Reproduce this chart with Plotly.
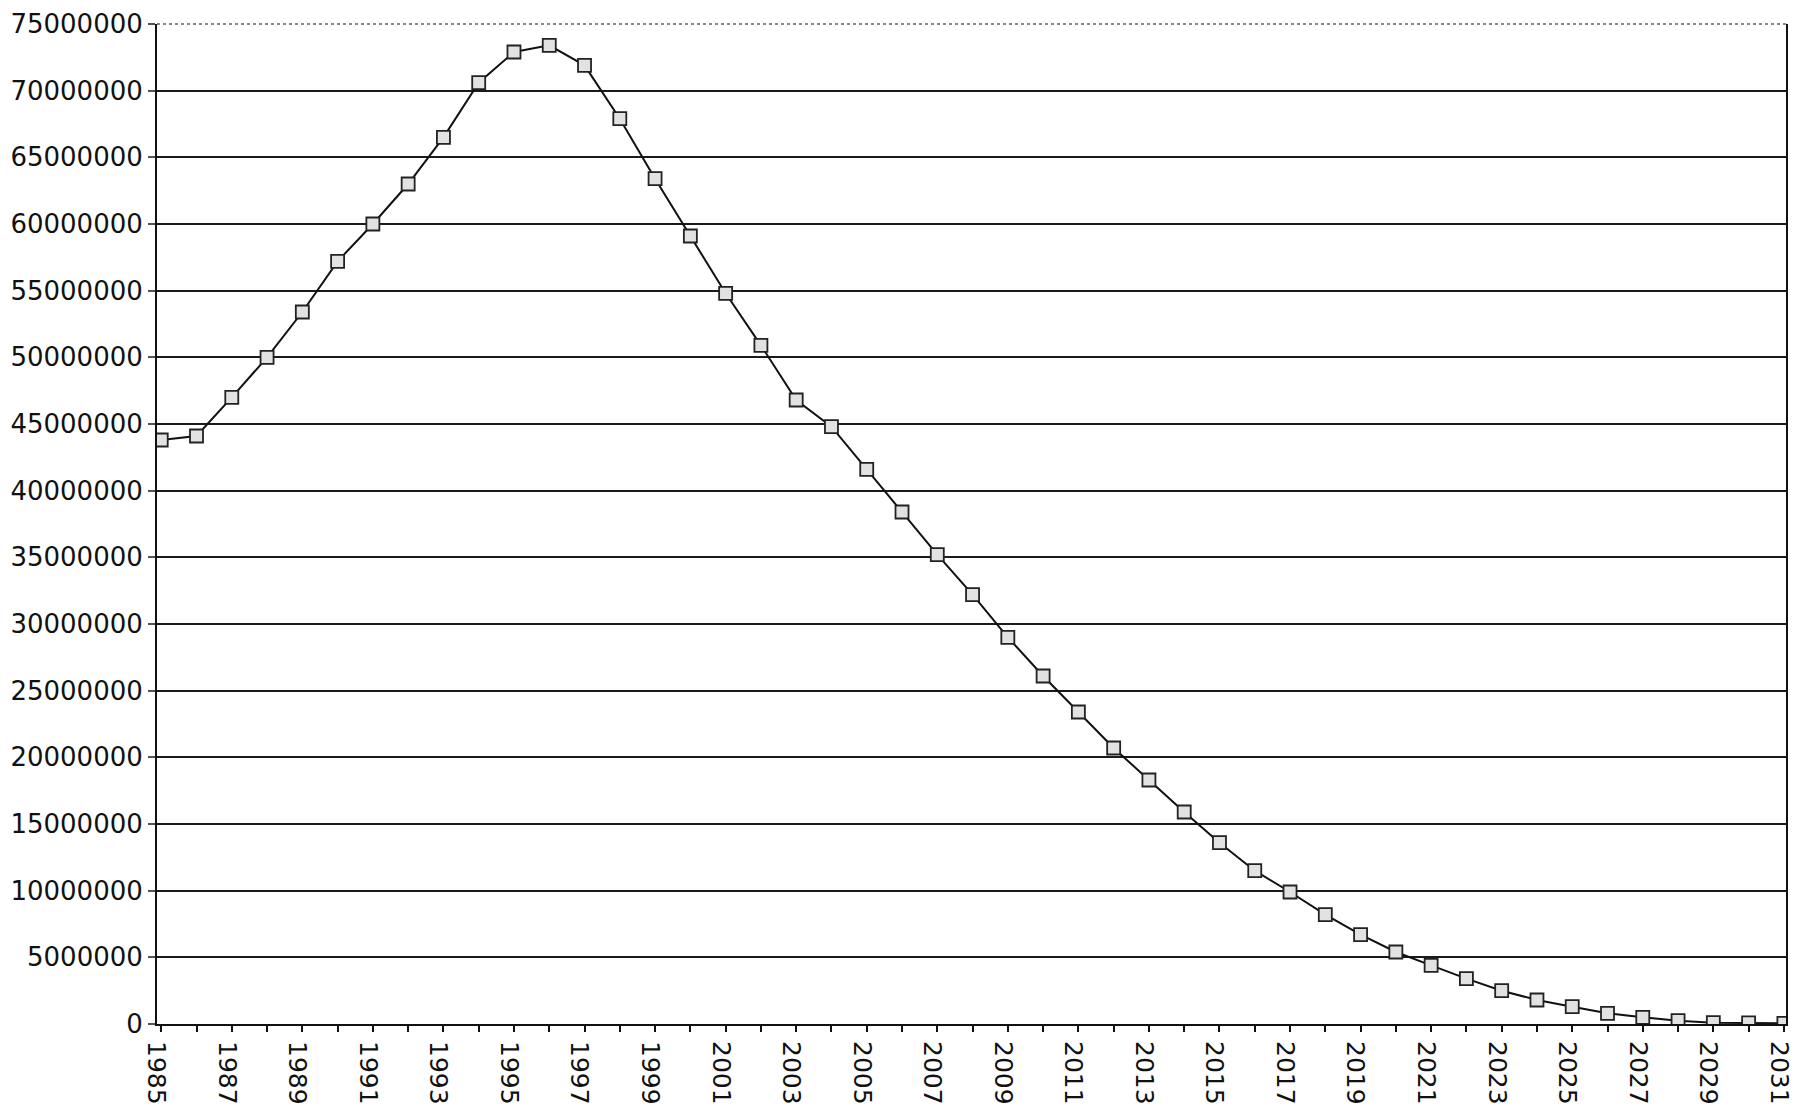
import plotly.graph_objects as go

years = list(range(1985, 2032))
values_millions = [
    43.8, 44.1, 47.0, 50.0, 53.4, 57.2, 60.0, 63.0, 66.5, 70.6,
    72.9, 73.4, 71.9, 67.9, 63.4, 59.1, 54.8, 50.9, 46.8, 44.8,
    41.6, 38.4, 35.2, 32.2, 29.0, 26.1, 23.4, 20.7, 18.3, 15.9,
    13.6, 11.5, 9.9, 8.2, 6.7, 5.4, 4.4, 3.4, 2.5, 1.8,
    1.3, 0.8, 0.5, 0.25, 0.1, 0.08, 0.05,
]
values = [v * 1_000_000 for v in values_millions]

y_ticks = list(range(0, 75_000_001, 5_000_000))
x_tick_text = [str(y) if (y - 1985) % 2 == 0 else "" for y in years]

fig = go.Figure()
fig.add_trace(go.Scatter(
    x=years, y=values, mode="lines+markers",
    line=dict(color="#111111", width=2),
    marker=dict(symbol="square", size=13, color="#e2e2e2",
                line=dict(color="#222222", width=1.8)),
    hoverinfo="x+y", showlegend=False,
))

fig.update_layout(
    width=1795, height=1108,
    margin=dict(l=157, r=9, t=24, b=84, autoexpand=False),
    paper_bgcolor="white", plot_bgcolor="white",
    font=dict(family="DejaVu Sans, Liberation Sans, Arial, sans-serif", size=26, color="#111111"),
    showlegend=False,
)
fig.update_xaxes(
    range=[1984.88, 2031.06],
    tickmode="array", tickvals=years, ticktext=x_tick_text,
    tickangle=90, ticks="outside", ticklen=6, tickwidth=2, tickcolor="#111111",
    ticklabelstandoff=4, ticklabelshift=-5, ticklabeloverflow="allow", automargin=False,
    showline=True, linecolor="#111111", linewidth=2,
    showgrid=False, zeroline=False, mirror=False,
    tickfont=dict(size=25),
)
fig.update_yaxes(
    range=[0, 75_000_000],
    tickmode="array", tickvals=y_ticks, ticktext=[str(v) for v in y_ticks],
    ticks="outside", ticklen=7, tickwidth=1.5, tickcolor="#555555",
    ticklabeloverflow="allow", automargin=False,
    showline=True, linecolor="#111111", linewidth=2, mirror=True,
    showgrid=True, gridcolor="#1a1a1a", gridwidth=2.2,
    zeroline=False, tickfont=dict(size=26),
)
fig.add_shape(type="line", xref="paper", yref="paper", x0=0, x1=1, y0=1, y1=1,
              line=dict(color="#888888", width=2, dash="dot"))

fig.write_html(
    "out.html",
    config={"displayModeBar": False},
    post_script="document.body.style.margin='0';document.body.style.overflow='hidden';",
)
